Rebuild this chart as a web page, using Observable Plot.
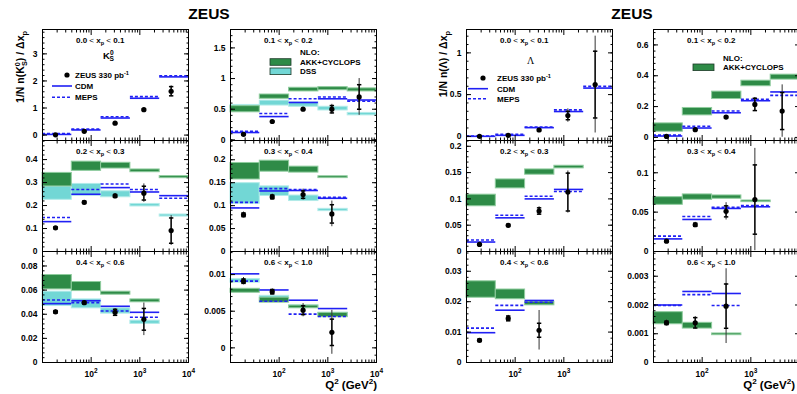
<!DOCTYPE html>
<html>
<head>
<meta charset="utf-8">
<script src="https://cdn.jsdelivr.net/npm/d3@7"></script>
<script src="https://cdn.jsdelivr.net/npm/@observablehq/plot@0.6"></script>
<style>
html,body{margin:0;padding:0;background:#fff;}
body{width:797px;height:394px;position:relative;overflow:hidden;}
svg.ov{position:absolute;pointer-events:none;}
</style>
</head>
<body>
<script>
// ---------- shared binning / tick labels ----------
const q2Edges = [10, 40, 160, 640, 2560, 10000];
const q2Mean  = [18.5, 72, 310, 1210, 4400];
const xMajorTicks  = [100, 1000, 10000];
const xMajorLabels = ["10^2", "10^3", "10^4"];
const xMinorTicks  = [20,30,40,50,60,70,80,90,200,300,400,500,600,700,800,900,2000,3000,4000,5000,6000,7000,8000,9000];
const xpEdges = ["0.0", "0.1", "0.2", "0.3", "0.4", "0.6", "1.0"];

// ---------- K0S ----------
// 0.0 < xp < 0.1
const k0s_a_val  = [0.01, 0.14, 0.44, 0.94, 1.62];
const k0s_a_stat = [0.01, 0.01, 0.02, 0.03, 0.17];
const k0s_a_tot  = [0.02, 0.02, 0.03, 0.05, 0.20];
const k0s_a_cdm  = [0.025, 0.19, 0.63, 1.36, 2.15];
const k0s_a_meps = [0.06, 0.22, 0.68, 1.42, 2.19];
// 0.1 < xp < 0.2
const k0s_b_val  = [0.09, 0.30, 0.50, 0.50, 0.70];
const k0s_b_stat = [0.01, 0.01, 0.01, 0.06, 0.20];
const k0s_b_tot  = [0.015, 0.015, 0.02, 0.08, 0.30];
const k0s_b_cdm  = [0.12, 0.38, 0.61, 0.67, 0.65];
const k0s_b_meps = [0.14, 0.43, 0.67, 0.70, 0.63];
const k0s_b_akkLo = [0.45, 0.67, 0.79, 0.81, 0.79];
const k0s_b_akkHi = [0.55, 0.74, 0.85, 0.86, 0.84];
const k0s_b_dssLo = [0.52, 0.56, 0.54, 0.48, 0.40];
const k0s_b_dssHi = [0.57, 0.64, 0.61, 0.54, 0.44];
// 0.2 < xp < 0.3
const k0s_c_val  = [0.103, 0.214, 0.242, 0.254, 0.091];
const k0s_c_stat = [0.004, 0.005, 0.006, 0.030, 0.055];
const k0s_c_tot  = [0.006, 0.007, 0.010, 0.040, 0.065];
const k0s_c_cdm  = [0.130, 0.249, 0.278, 0.259, 0.243];
const k0s_c_meps = [0.148, 0.270, 0.294, 0.270, 0.232];
const k0s_c_akkLo = [0.283, 0.351, 0.361, 0.345, 0.319];
const k0s_c_akkHi = [0.342, 0.391, 0.386, 0.357, 0.328];
const k0s_c_dssLo = [0.225, 0.243, 0.236, 0.196, 0.152];
const k0s_c_dssHi = [0.283, 0.294, 0.262, 0.207, 0.161];
// 0.3 < xp < 0.4
const k0s_d_val  = [0.080, 0.119, 0.124, 0.082];
const k0s_d_stat = [0.004, 0.004, 0.008, 0.020];
const k0s_d_tot  = [0.006, 0.006, 0.012, 0.028];
const k0s_d_cdm  = [0.095, 0.132, 0.133, 0.116];
const k0s_d_meps = [0.107, 0.137, 0.135, 0.118];
const k0s_d_akkLo = [0.157, 0.174, 0.172, 0.160];
const k0s_d_akkHi = [0.193, 0.198, 0.185, 0.164];
const k0s_d_dssLo = [0.104, 0.121, 0.110, 0.088];
const k0s_d_dssHi = [0.149, 0.142, 0.122, 0.093];
// 0.4 < xp < 0.6
const k0s_e_val  = [0.0420, 0.0496, 0.0416, 0.0358];
const k0s_e_stat = [0.0010, 0.0010, 0.0025, 0.0090];
const k0s_e_tot  = [0.0015, 0.0015, 0.0030, 0.0135];
const k0s_e_cdm  = [0.0488, 0.0512, 0.0466, 0.0416];
const k0s_e_meps = [0.0518, 0.0496, 0.0427, 0.0375];
const k0s_e_akkLo = [0.0606, 0.0592, 0.0562, 0.0499];
const k0s_e_akkHi = [0.0725, 0.0667, 0.0587, 0.0523];
const k0s_e_dssLo = [0.0468, 0.0449, 0.0405, 0.0320];
const k0s_e_dssHi = [0.0587, 0.0523, 0.0449, 0.0347];
// 0.6 < xp < 1.0
const k0s_f_val  = [0.0091, 0.00766, 0.00514, 0.00212];
const k0s_f_stat = [0.0003, 0.0003, 0.0006, 0.0018];
const k0s_f_tot  = [0.0005, 0.0004, 0.0009, 0.0030];
const k0s_f_cdm  = [0.0101, 0.0079, 0.0065, 0.00536];
const k0s_f_meps = [0.0091, 0.00635, 0.0046, 0.00428];
const k0s_f_akkLo = [0.00752, 0.00617, 0.00540, 0.00419];
const k0s_f_akkHi = [0.00806, 0.00685, 0.00577, 0.00477];
const k0s_f_dssLo = [0.0089, 0.0064, 0.0055, 0.0042];
const k0s_f_dssHi = [0.0094, 0.0071, 0.0058, 0.0048];

// ---------- Lambda ----------
const lam_a_val  = [0.0, 0.012, 0.076, 0.249, 0.62];
const lam_a_stat = [0.003, 0.004, 0.010, 0.050, 0.40];
const lam_a_tot  = [0.005, 0.006, 0.015, 0.080, 0.58];
const lam_a_cdm  = [0.0, 0.012, 0.104, 0.297, 0.578];
const lam_a_meps = [0.004, 0.024, 0.112, 0.317, 0.598];

const lam_b_val  = [0.0065, 0.050, 0.132, 0.214, 0.171];
const lam_b_stat = [0.002, 0.004, 0.005, 0.040, 0.12];
const lam_b_tot  = [0.004, 0.006, 0.008, 0.045, 0.17];
const lam_b_cdm  = [0.009, 0.061, 0.160, 0.238, 0.295];
const lam_b_meps = [0.015, 0.072, 0.171, 0.247, 0.273];
const lam_b_akkLo = [0.037, 0.143, 0.249, 0.332, 0.375];
const lam_b_akkHi = [0.091, 0.191, 0.297, 0.368, 0.407];

const lam_c_val  = [0.0134, 0.0497, 0.077, 0.113];
const lam_c_stat = [0.001, 0.002, 0.006, 0.036];
const lam_c_tot  = [0.0015, 0.003, 0.008, 0.040];
const lam_c_cdm  = [0.018, 0.064, 0.100, 0.118];
const lam_c_meps = [0.022, 0.069, 0.105, 0.114];
const lam_c_akkLo = [0.086, 0.120, 0.146, 0.158];
const lam_c_akkHi = [0.108, 0.137, 0.156, 0.163];

const lam_d_val  = [0.0131, 0.034, 0.051, 0.066];
const lam_d_stat = [0.001, 0.002, 0.007, 0.044];
const lam_d_tot  = [0.0015, 0.003, 0.011, 0.065];
const lam_d_cdm  = [0.016, 0.0407, 0.0547, 0.0568];
const lam_d_meps = [0.0195, 0.0445, 0.056, 0.0585];
const lam_d_akkLo = [0.0593, 0.0657, 0.0670, 0.0627];
const lam_d_akkHi = [0.0690, 0.0725, 0.0712, 0.0648];

const lam_e_val  = [0.0073, 0.0145, 0.0106];
const lam_e_stat = [0.0004, 0.0008, 0.0023];
const lam_e_tot  = [0.0006, 0.0010, 0.0065];
const lam_e_cdm  = [0.0098, 0.0172, 0.0204];
const lam_e_meps = [0.0113, 0.0188, 0.0198];
const lam_e_akkLo = [0.0213, 0.0208, 0.0188];
const lam_e_akkHi = [0.0267, 0.0240, 0.0200];

const lam_f_val  = [0.00138, 0.00138, 0.00196];
const lam_f_stat = [0.00006, 0.00018, 0.00077];
const lam_f_tot  = [0.00010, 0.00022, 0.00130];
const lam_f_cdm  = [0.00200, 0.00247, 0.00240];
const lam_f_meps = [0.00198, 0.00236, 0.00198];
const lam_f_akkLo = [0.00133, 0.00118, 0.00095];
const lam_f_akkHi = [0.00175, 0.00138, 0.00101];

// ---------- styling ----------
const FONT = "'Liberation Sans', Arial, Helvetica, sans-serif";
const GREEN = "#2e8b47", GREEN_EDGE = "#8fcc9e";
const CYAN = "#72d7d5", CYAN_EDGE = "#b2ebe9";
const BLUE = "#2020f4";
const FW = 146, FH = 111;
const COLS = {k0s: [42, 230], lam: [466, 653]};
const ROWS = [29, 140, 251];

const capSymbol = {draw(ctx, size) { const w = Math.sqrt(size / Math.PI); ctx.moveTo(-w, 0); ctx.lineTo(w, 0); }};
const fmtY = d => String(+d.toFixed(6));

function drawPanel(cfg) {
  const n = cfg.val.length;
  const rows = d3.range(n).map(i => ({
    lo: q2Edges[i], hi: q2Edges[i + 1], q: q2Mean[i],
    val: cfg.val[i], stat: cfg.stat[i], tot: cfg.tot[i],
    cdm: cfg.cdm[i], meps: cfg.meps[i],
    akkLo: cfg.akkLo ? cfg.akkLo[i] : null, akkHi: cfg.akkHi ? cfg.akkHi[i] : null,
    dssLo: cfg.dssLo ? cfg.dssLo[i] : null, dssHi: cfg.dssHi ? cfg.dssHi[i] : null
  }));
  const [y0, y1] = cfg.yDomain;
  const minor = d3.range(Math.ceil(y0 / cfg.minor - 1e-9), Math.floor(y1 / cfg.minor + 1e-9) + 1).map(k => +(k * cfg.minor).toFixed(8));
  const ML = 40, MR = 14, MT = 4, MB = 32;
  const marks = [];
  if (cfg.dssLo) marks.push(Plot.rect(rows, {x1: "lo", x2: "hi", y1: "dssLo", y2: "dssHi", fill: CYAN, stroke: CYAN_EDGE, strokeWidth: 1}));
  if (cfg.akkLo) marks.push(Plot.rect(rows, {x1: "lo", x2: "hi", y1: "akkLo", y2: "akkHi", fill: GREEN, stroke: GREEN_EDGE, strokeWidth: 1}));
  marks.push(Plot.ruleY(rows, {x1: "lo", x2: "hi", y: "cdm", stroke: BLUE, strokeWidth: 1.6}));
  marks.push(Plot.ruleY(rows, {x1: "lo", x2: "hi", y: "meps", stroke: BLUE, strokeWidth: 1.6, strokeDasharray: "3,2"}));
  marks.push(Plot.ruleX(rows, {x: "q", y1: d => d.val - d.tot, y2: d => d.val + d.tot, stroke: "#333", strokeWidth: 1}));
  marks.push(Plot.ruleX(rows, {x: "q", y1: d => d.val - d.stat, y2: d => d.val + d.stat, stroke: "black", strokeWidth: 1.3}));
  marks.push(Plot.dot(rows, {x: "q", y: d => d.val + d.stat, symbol: capSymbol, r: 2.2, stroke: "black", fill: "none"}));
  marks.push(Plot.dot(rows, {x: "q", y: d => d.val - d.stat, symbol: capSymbol, r: 2.2, stroke: "black", fill: "none"}));
  marks.push(Plot.dot(rows, {x: "q", y: "val", r: 2.6, fill: "black", stroke: "none"}));
  // axes: labels
  marks.push(Plot.axisY({ticks: cfg.yTicks, anchor: "left", tickSize: 0, tickPadding: 5, label: null, tickFormat: fmtY, fontSize: 8.5}));
  // inward ticks on all sides
  for (const side of ["left", "right"]) {
    marks.push(Plot.axisY({ticks: cfg.yTicks, anchor: side, tickSize: -5, fill: "none", label: null}));
    marks.push(Plot.axisY({ticks: minor, anchor: side, tickSize: -2.5, fill: "none", label: null}));
  }
  for (const side of ["bottom", "top"]) {
    marks.push(Plot.axisX({ticks: xMajorTicks, anchor: side, tickSize: -5, fill: "none", label: null}));
    marks.push(Plot.axisX({ticks: xMinorTicks, anchor: side, tickSize: -2.5, fill: "none", label: null}));
  }
  if (cfg.xLabels) {
    marks.push(Plot.axisX({ticks: cfg.xLabels, anchor: "bottom", tickSize: 0, tickPadding: 8, label: null, fontSize: 8.5,
      ariaLabel: "x-labels", tickFormat: d => xMajorLabels[xMajorTicks.indexOf(d)]}));
  }
  marks.push(Plot.frame({stroke: "black", strokeWidth: 1}));
  const svg = Plot.plot({
    width: FW + ML + MR, height: FH + MT + MB,
    marginLeft: ML, marginRight: MR, marginTop: MT, marginBottom: MB,
    x: {type: "log", domain: [10, 10000], axis: null},
    y: {domain: cfg.yDomain, axis: null},
    style: {background: "transparent", fontFamily: FONT, fontWeight: "bold", fontSize: "8.5px", color: "black", overflow: "visible"},
    marks
  });
  // render "10^k" labels with a real raised exponent
  svg.querySelectorAll("text").forEach(t => {
    const s = t.textContent;
    if (s.includes("^")) {
      const [base, exp] = s.split("^");
      t.textContent = "";
      const ns = "http://www.w3.org/2000/svg";
      const a = document.createElementNS(ns, "tspan"); a.textContent = base; t.appendChild(a);
      const b = document.createElementNS(ns, "tspan"); b.textContent = exp;
      b.setAttribute("dy", "-3.6"); b.setAttribute("font-size", "6.5"); t.appendChild(b);
    }
  });
  svg.style.position = "absolute";
  svg.style.left = (cfg.left - ML) + "px";
  svg.style.top = (cfg.top - MT) + "px";
  svg.style.maxWidth = "none";
  document.body.appendChild(svg);
}

const panels = [
  {left: COLS.k0s[0], top: ROWS[0], yDomain: [-0.2, 3.9], yTicks: [0, 1, 2, 3], minor: 0.2,
   val: k0s_a_val, stat: k0s_a_stat, tot: k0s_a_tot, cdm: k0s_a_cdm, meps: k0s_a_meps},
  {left: COLS.k0s[1], top: ROWS[0], yDomain: [-0.01, 1.8], yTicks: [0, 0.5, 1, 1.5], minor: 0.1,
   val: k0s_b_val, stat: k0s_b_stat, tot: k0s_b_tot, cdm: k0s_b_cdm, meps: k0s_b_meps,
   akkLo: k0s_b_akkLo, akkHi: k0s_b_akkHi, dssLo: k0s_b_dssLo, dssHi: k0s_b_dssHi},
  {left: COLS.k0s[0], top: ROWS[1], yDomain: [0, 0.483], yTicks: [0, 0.1, 0.2, 0.3, 0.4], minor: 0.02,
   val: k0s_c_val, stat: k0s_c_stat, tot: k0s_c_tot, cdm: k0s_c_cdm, meps: k0s_c_meps,
   akkLo: k0s_c_akkLo, akkHi: k0s_c_akkHi, dssLo: k0s_c_dssLo, dssHi: k0s_c_dssHi},
  {left: COLS.k0s[1], top: ROWS[1], yDomain: [0, 0.242], yTicks: [0, 0.05, 0.1, 0.15, 0.2], minor: 0.01,
   val: k0s_d_val, stat: k0s_d_stat, tot: k0s_d_tot, cdm: k0s_d_cdm, meps: k0s_d_meps,
   akkLo: k0s_d_akkLo, akkHi: k0s_d_akkHi, dssLo: k0s_d_dssLo, dssHi: k0s_d_dssHi},
  {left: COLS.k0s[0], top: ROWS[2], yDomain: [0, 0.092], yTicks: [0, 0.02, 0.04, 0.06, 0.08], minor: 0.004,
   val: k0s_e_val, stat: k0s_e_stat, tot: k0s_e_tot, cdm: k0s_e_cdm, meps: k0s_e_meps,
   akkLo: k0s_e_akkLo, akkHi: k0s_e_akkHi, dssLo: k0s_e_dssLo, dssHi: k0s_e_dssHi, xLabels: [100, 1000, 10000]},
  {left: COLS.k0s[1], top: ROWS[2], yDomain: [-0.002, 0.01315], yTicks: [0, 0.005, 0.01], minor: 0.001,
   val: k0s_f_val, stat: k0s_f_stat, tot: k0s_f_tot, cdm: k0s_f_cdm, meps: k0s_f_meps,
   akkLo: k0s_f_akkLo, akkHi: k0s_f_akkHi, dssLo: k0s_f_dssLo, dssHi: k0s_f_dssHi, xLabels: [100, 1000, 10000]},

  {left: COLS.lam[0], top: ROWS[0], yDomain: [-0.05, 1.28], yTicks: [0, 0.5, 1], minor: 0.1,
   val: lam_a_val, stat: lam_a_stat, tot: lam_a_tot, cdm: lam_a_cdm, meps: lam_a_meps},
  {left: COLS.lam[1], top: ROWS[0], yDomain: [-0.02, 0.7], yTicks: [0, 0.2, 0.4, 0.6], minor: 0.04,
   val: lam_b_val, stat: lam_b_stat, tot: lam_b_tot, cdm: lam_b_cdm, meps: lam_b_meps,
   akkLo: lam_b_akkLo, akkHi: lam_b_akkHi},
  {left: COLS.lam[0], top: ROWS[1], yDomain: [0, 0.211], yTicks: [0, 0.05, 0.1, 0.15, 0.2], minor: 0.01,
   val: lam_c_val, stat: lam_c_stat, tot: lam_c_tot, cdm: lam_c_cdm, meps: lam_c_meps,
   akkLo: lam_c_akkLo, akkHi: lam_c_akkHi},
  {left: COLS.lam[1], top: ROWS[1], yDomain: [0, 0.141], yTicks: [0, 0.05, 0.1], minor: 0.01,
   val: lam_d_val, stat: lam_d_stat, tot: lam_d_tot, cdm: lam_d_cdm, meps: lam_d_meps,
   akkLo: lam_d_akkLo, akkHi: lam_d_akkHi},
  {left: COLS.lam[0], top: ROWS[2], yDomain: [0, 0.0365], yTicks: [0, 0.01, 0.02, 0.03], minor: 0.002,
   val: lam_e_val, stat: lam_e_stat, tot: lam_e_tot, cdm: lam_e_cdm, meps: lam_e_meps,
   akkLo: lam_e_akkLo, akkHi: lam_e_akkHi, xLabels: [100, 1000]},
  {left: COLS.lam[1], top: ROWS[2], yDomain: [0, 0.00386], yTicks: [0, 0.001, 0.002, 0.003], minor: 0.0002,
   val: lam_f_val, stat: lam_f_stat, tot: lam_f_tot, cdm: lam_f_cdm, meps: lam_f_meps,
   akkLo: lam_f_akkLo, akkHi: lam_f_akkHi, xLabels: [100, 1000]}
];
panels.forEach(drawPanel);

// ---------- text overlay ----------
const ov = d3.select("body").append("svg").attr("class", "ov")
  .attr("width", 797).attr("height", 394).style("left", "0px").style("top", "0px");

function rich(x, y, segs, size, opts = {}) {
  const t = ov.append("text").attr("x", x).attr("y", y)
    .attr("font-size", size).attr("font-family", opts.family || FONT)
    .attr("font-weight", opts.weight || "bold").attr("text-anchor", opts.anchor || "start")
    .attr("fill", "black");
  if (opts.rotate) t.attr("transform", `rotate(${opts.rotate},${x},${y})`);
  let cur = 0;
  for (const s of segs) {
    const seg = typeof s === "string" ? {t: s} : s;
    const shift = seg.s === "sup" ? -0.4 * size : seg.s === "sub" ? 0.28 * size : 0;
    const ts = t.append("tspan").text(seg.t).attr("dy", shift - cur)
      .attr("font-size", seg.s ? size * 0.7 : size);
    if (seg.dx) ts.attr("dx", seg.dx);
    if (seg.w) ts.attr("font-weight", seg.w);
    cur = shift;
  }
  return t;
}

// titles
rich(209, 18.5, ["ZEUS"], 15.5, {anchor: "middle"});
rich(632, 18.5, ["ZEUS"], 15.5, {anchor: "middle"});
// y titles
rich(24, 31, ["1/N n(K", {t: "0", s: "sup"}, {t: "S", s: "sub", dx: -4}, ")", " / \u0394x", {t: "p", s: "sub"}], 10.5, {anchor: "end", rotate: -90});
rich(447, 31, ["1/N n(\u039B) / \u0394x", {t: "p", s: "sub"}], 10.5, {anchor: "end", rotate: -90});
// x titles
rich(377, 389, ["Q", {t: "2", s: "sup"}, " (GeV", {t: "2", s: "sup"}, ")"], 11.5, {anchor: "end"});
rich(795, 389, ["Q", {t: "2", s: "sup"}, " (GeV", {t: "2", s: "sup"}, ")"], 11.5, {anchor: "end"});

// panel xp-range labels
const order = [[0, 0], [1, 0], [0, 1], [1, 1], [0, 2], [1, 2]];
for (const blk of ["k0s", "lam"]) {
  order.forEach(([c, r], i) => {
    rich(COLS[blk][c] + 34, ROWS[r] + 14,
      [xpEdges[i] + " ", {t: "<", w: "normal"}, " x", {t: "p", s: "sub"}, " ", {t: "<", w: "normal"}, " " + xpEdges[i + 1]], 8);
  });
}

// particle labels
rich(103, 58.5, ["K", {t: "0", s: "sup"}, {t: "S", s: "sub", dx: -4}], 9.5);
rich(527, 63.5, ["\u039B"], 10, {family: "'Liberation Serif', 'DejaVu Serif', serif", weight: "normal"});

// MC / data legends
function mcLegend(x0, yData, yCdm, yMeps, xText) {
  ov.append("circle").attr("cx", x0 + 15).attr("cy", yData).attr("r", 2.6).attr("fill", "black");
  ov.append("line").attr("x1", x0).attr("x2", x0 + 20).attr("y1", yCdm).attr("y2", yCdm).attr("stroke", BLUE).attr("stroke-width", 1.6);
  ov.append("line").attr("x1", x0).attr("x2", x0 + 20).attr("y1", yMeps).attr("y2", yMeps).attr("stroke", BLUE).attr("stroke-width", 1.6).attr("stroke-dasharray", "3,2");
  rich(xText, yData + 3, ["ZEUS 330 pb", {t: "-1", s: "sup"}], 8);
  rich(xText, yCdm + 3, ["CDM"], 8);
  rich(xText, yMeps + 3, ["MEPS"], 8);
}
mcLegend(52, 75, 86, 97.3, 75);
mcLegend(468, 78, 88.7, 98.7, 497);

// NLO legends
function nloLegend(x0, yNlo, boxes, xText) {
  rich(xText, yNlo + 3, ["NLO:"], 8);
  boxes.forEach(([label, fill, y]) => {
    ov.append("rect").attr("x", x0).attr("y", y - 3.3).attr("width", 21).attr("height", 6.6)
      .attr("fill", fill).attr("stroke", "#1d3b28").attr("stroke-width", 0.8);
    rich(xText, y + 3, [label], 8);
  });
}
nloLegend(270, 52.3, [["AKK+CYCLOPS", GREEN, 62], ["DSS", CYAN, 71.3]], 300);
nloLegend(693, 58.3, [["AKK+CYCLOPS", GREEN, 67.3]], 723);
</script>
</body>
</html>
